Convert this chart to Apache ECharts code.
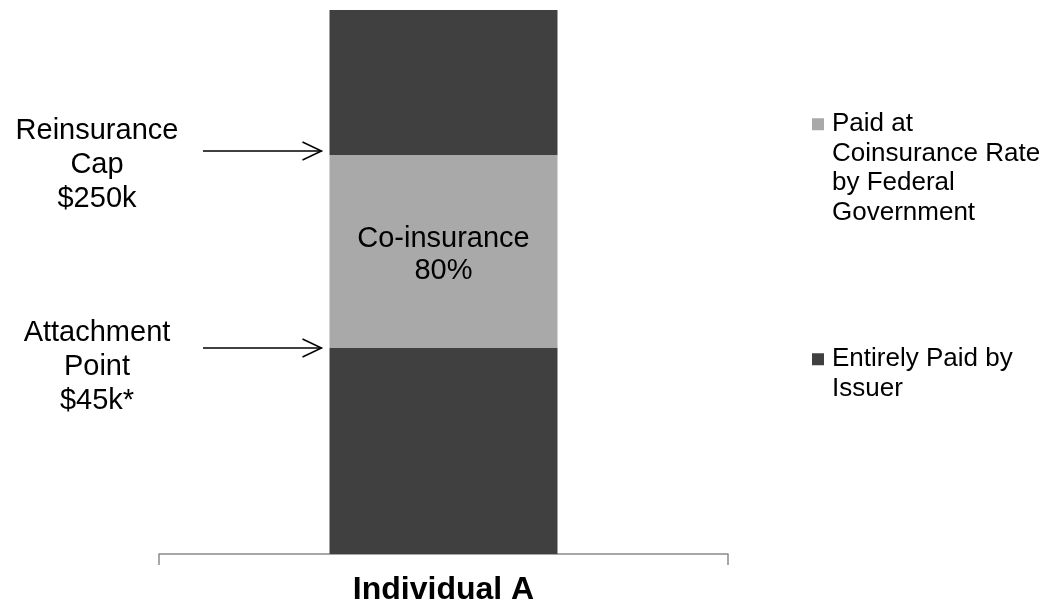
<!DOCTYPE html>
<html>
<head>
<meta charset="utf-8">
<title>Reinsurance layers – Individual A</title>
<script src="https://cdn.jsdelivr.net/npm/echarts@6/dist/echarts.min.js"></script>
<style>
  html, body { margin: 0; padding: 0; background: #ffffff; }
  #chart { width: 1047px; height: 607px; }
</style>
</head>
<body>
<div id="chart"></div>
<script>
// Claim layers for one enrollee (relative heights of the cost bands)
const categories = ['Individual A'];
const issuerBelowAttachment = [206];   // costs up to the attachment point
const coinsuranceBand = [193];         // between attachment point and cap
const issuerAboveCap = [145];          // costs beyond the reinsurance cap
const coinsuranceRate = '80%';

const seriesNames = {
  issuer: 'Entirely Paid by Issuer',
  federal: 'Paid at Coinsurance Rate by Federal Government'
};
// Wrapped legend lines
const legendLines = {
  [seriesNames.federal]: ['Paid at', 'Coinsurance Rate', 'by Federal', 'Government'],
  [seriesNames.issuer]: ['Entirely Paid by', 'Issuer']
};
const thresholdLabels = {
  cap: ['Reinsurance', 'Cap', '$250k'],
  attachment: ['Attachment', 'Point', '$45k*']
};

const DARK = '#404040';
const LIGHT = '#a9a9a9';
const FONT = "'Liberation Sans', Arial, sans-serif";

const total = issuerBelowAttachment[0] + coinsuranceBand[0] + issuerAboveCap[0];
const attachmentLevel = issuerBelowAttachment[0];
const capLevel = issuerBelowAttachment[0] + coinsuranceBand[0];

const chart = echarts.init(document.getElementById('chart'), null, { renderer: 'canvas' });

// Legend text keeps the first line level with the swatch: blank lines are
// added on top so the vertically centred block puts line one at the icon.
function legendText(name) {
  const lines = legendLines[name];
  const pad = new Array(lines.length - 1).fill('');
  return pad.concat(lines).join('\n');
}

const legendStyle = {
  orient: 'vertical',
  left: 812,
  padding: 0,
  icon: 'rect',
  itemWidth: 12,
  itemHeight: 12,
  selectedMode: false,
  formatter: legendText,
  textStyle: {
    fontFamily: FONT,
    fontSize: 26,
    lineHeight: 29.5,
    color: '#000',
    padding: [0, 0, 0, 3]
  }
};

chart.setOption({
  animation: false,
  backgroundColor: '#ffffff',
  grid: { left: 159, top: 10, width: 569, height: 544, containLabel: false },
  legend: [
    Object.assign({}, legendStyle, { top: 21, data: [seriesNames.federal] }),
    Object.assign({}, legendStyle, { top: 315, data: [seriesNames.issuer] })
  ],
  xAxis: {
    type: 'category',
    data: categories,
    axisLine: { show: true, lineStyle: { color: '#8a8a8a', width: 1.5 } },
    axisTick: { show: true, length: 11, alignWithLabel: false, lineStyle: { color: '#8a8a8a', width: 1.5 } },
    axisLabel: {
      margin: 20,
      fontFamily: FONT,
      fontSize: 32,
      fontWeight: 'bold',
      color: '#000'
    }
  },
  yAxis: {
    type: 'value',
    min: 0,
    max: total,
    show: false,
    splitLine: { show: false }
  },
  series: [
    {
      name: seriesNames.issuer,
      type: 'bar',
      stack: 'cost',
      barWidth: 228,
      data: issuerBelowAttachment,
      itemStyle: { color: DARK }
    },
    {
      name: seriesNames.federal,
      type: 'bar',
      stack: 'cost',
      barWidth: 228,
      data: coinsuranceBand,
      itemStyle: { color: LIGHT },
      label: {
        show: true,
        position: 'inside',
        offset: [0, 3],
        formatter: 'Co-insurance\n' + coinsuranceRate,
        fontFamily: FONT,
        fontSize: 29,
        lineHeight: 32,
        color: '#000'
      }
    },
    {
      name: seriesNames.issuer,
      type: 'bar',
      stack: 'cost',
      barWidth: 228,
      data: issuerAboveCap,
      itemStyle: { color: DARK }
    }
  ]
});

// Threshold annotations: arrows pointing at the band edges with their labels
function annotation(level, lines, arrowNudge, labelNudge, id) {
  const y = chart.convertToPixel({ yAxisIndex: 0 }, level);
  const barLeft = chart.convertToPixel({ xAxisIndex: 0 }, 0) - 114;
  const tipX = barLeft - 8;
  const ay = y + arrowNudge;
  return [
    {
      type: 'line', id: id + '-shaft', silent: true,
      shape: { x1: 203, y1: ay, x2: tipX, y2: ay },
      style: { stroke: '#000', lineWidth: 1.5 }
    },
    {
      type: 'polyline', id: id + '-head', silent: true,
      shape: { points: [[tipX - 19, ay - 9], [tipX, ay], [tipX - 19, ay + 9]] },
      style: { stroke: '#000', lineWidth: 1.5, fill: null }
    },
    {
      type: 'text', id: id + '-label', silent: true,
      x: 97, y: y + labelNudge,
      style: {
        text: lines.join('\n'),
        font: '29px ' + FONT,
        lineHeight: 34,
        align: 'center',
        verticalAlign: 'middle',
        fill: '#000'
      }
    }
  ];
}

chart.setOption({
  graphic: [].concat(
    annotation(capLevel, thresholdLabels.cap, -4, 10, 'cap'),
    annotation(attachmentLevel, thresholdLabels.attachment, 0, 19, 'attach')
  )
});
</script>
</body>
</html>
